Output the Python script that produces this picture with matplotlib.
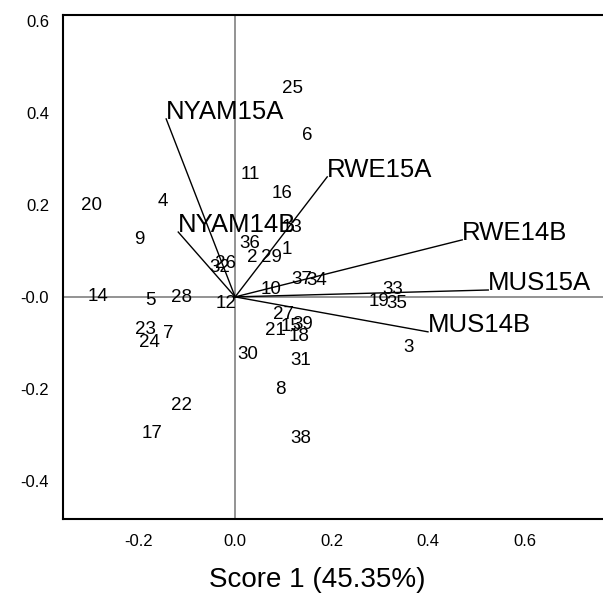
import matplotlib.pyplot as plt

plt.rcParams['font.family'] = ['Liberation Sans', 'DejaVu Sans']

# object scores (case numbers)
case_ids = [str(i) for i in range(1, 40)]
score1 = [0.108, 0.035, 0.359, -0.151, -0.176, 0.149, -0.139, 0.093, -0.199, 0.075,
          0.031, -0.019, 0.118, -0.284, 0.116, 0.098, -0.172, 0.133, 0.299, -0.297,
          0.083, -0.112, -0.187, -0.178, 0.120, -0.019, 0.100, -0.112, 0.075, 0.027,
          0.137, -0.031, 0.326, 0.170, 0.336, 0.031, 0.139, 0.137, 0.141]
score2 = [0.102, 0.085, -0.111, 0.207, -0.007, 0.350, -0.080, -0.202, 0.124, 0.017,
          0.267, -0.015, 0.150, 0.000, -0.065, 0.224, -0.298, -0.087, -0.009, 0.198,
          -0.072, -0.237, -0.070, -0.100, 0.454, 0.072, -0.039, -0.002, 0.085, -0.126,
          -0.139, 0.063, 0.017, 0.035, -0.015, 0.117, 0.037, -0.309, -0.061]

# variable loadings
variables = ['NYAM15A', 'NYAM14B', 'RWE15A', 'RWE14B', 'MUS15A', 'MUS14B']
load1 = [-0.143, -0.118, 0.191, 0.471, 0.525, 0.400]
load2 = [0.387, 0.141, 0.261, 0.124, 0.015, -0.076]

xticks = [-0.2, 0.0, 0.2, 0.4, 0.6]
xticklabels = ['-0.2', '0.0', '0.2', '0.4', '0.6']
yticks = [0.6, 0.4, 0.2, 0.0, -0.2, -0.4]
yticklabels = ['0.6', '0.4', '0.2', '-0.0', '-0.2', '-0.4']

fig = plt.figure(figsize=(6.03, 5.99), dpi=100)
ax = fig.add_axes([63 / 603, 1 - 519 / 599, 1 - 63 / 603, (519 - 15) / 599])

ax.set_xlim(-0.357, 0.763)
ax.set_ylim(-0.483, 0.613)

ax.axhline(0, color='#808080', lw=1.2, zorder=1)
ax.axvline(0, color='#808080', lw=1.2, zorder=1)

for name, x, y in zip(variables, load1, load2):
    ax.plot([0, x], [0, y], color='black', lw=1, zorder=2)
    ax.text(x, y, name, ha='left', va='baseline', fontsize=18.5, zorder=3)

for lab, x, y in zip(case_ids, score1, score2):
    ax.text(x, y, lab, ha='center', va='center', fontsize=13.5, zorder=3)

ax.set_xticks(xticks)
ax.set_xticklabels(xticklabels)
ax.set_yticks(yticks)
ax.set_yticklabels(yticklabels)
ax.tick_params(length=0, labelsize=12)
ax.tick_params(axis='x', pad=11)
ax.tick_params(axis='y', pad=10)

ax.spines['right'].set_visible(False)
for s in ['left', 'bottom', 'top']:
    ax.spines[s].set_linewidth(1.5)

fig.text(317 / 603, 1 - 580 / 599, 'Score 1 (45.35%)', ha='center', va='center', fontsize=20)

fig.savefig('out.png', dpi=100)
